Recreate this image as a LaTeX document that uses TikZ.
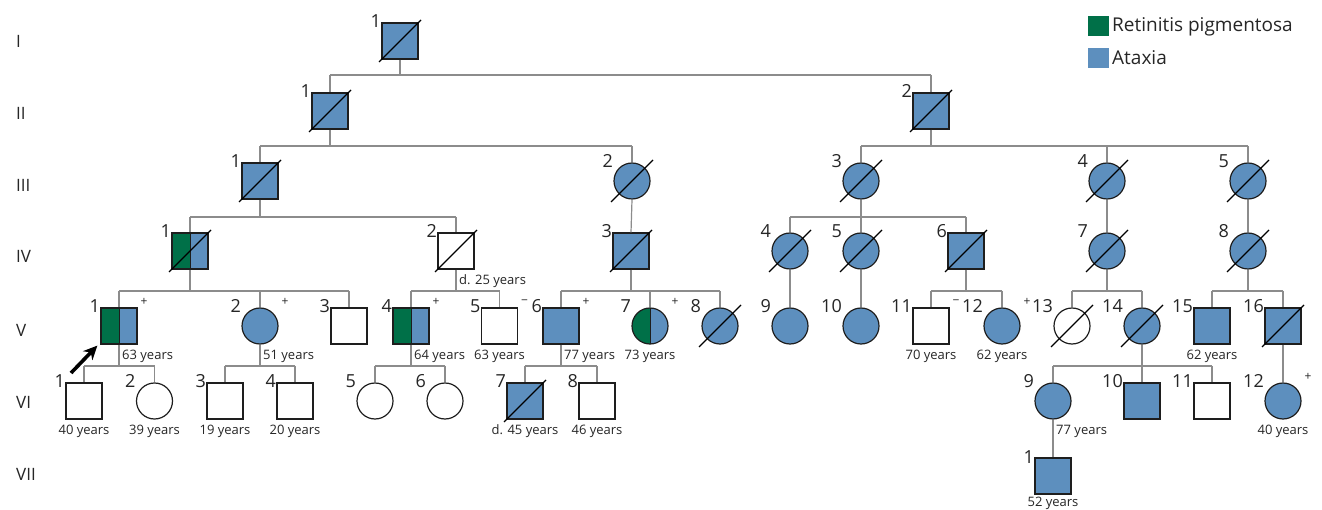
\documentclass[tikz,border=0pt]{standalone}
\usepackage{fontspec}
\setmainfont{Open Sans}
\usetikzlibrary{arrows.meta}
\definecolor{ablue}{RGB}{93,143,190}
\definecolor{rpgreen}{RGB}{0,112,72}
\definecolor{conncol}{RGB}{140,140,140}
\definecolor{outl}{RGB}{30,30,30}
\newcommand\ind[5]{%
  \node[#1] (#2) at (#3,#4) {};
  \node[num, anchor=base east] at ([shift={(-19pt,13pt)}]#2.center) {#5};}
\newcommand\deadmark[1]{\draw[slash] ([shift={(-21pt,-21pt)}]#1.center) -- ([shift={(21pt,21pt)}]#1.center);}
\newcommand\sgn[2]{\node[sgnst] at ([shift={(25pt,24pt)}]#1.center) {#2};}
\newcommand\agec[2]{\node[agest, anchor=base] at ([yshift=-15pt]#1.south) {#2};}
\newcommand\ager[2]{\node[agest, anchor=base west] at ([shift={(3pt,-15pt)}]#1.south) {#2};}
\newcommand\sib[4]{%
  \draw[conn] (#1.south) -- (#1.south |- 0,#2);
  \draw[conn] (#3.north |- 0,#2) -- (#4.north |- 0,#2);}
\newcommand\drop[2]{\draw[conn] (#1.north |- 0,#2) -- (#1.north);}
\newcommand\direct[2]{\draw[conn] (#1.south) -- (#2.north);}
\begin{document}
\begin{tikzpicture}[x=1pt,y=-1pt,
  sq/.style={draw=outl, line width=1.2pt, rectangle, minimum size=36pt, inner sep=0pt},
  ci/.style={draw=outl, line width=1.2pt, circle, minimum size=36pt, inner sep=0pt},
  halfsq/.style={sq, fill=ablue, path picture={
     \fill[rpgreen] (path picture bounding box.south west) rectangle (path picture bounding box.north);
     \draw[outl, line width=0.8pt] (path picture bounding box.south) -- (path picture bounding box.north);}},
  halfci/.style={ci, fill=ablue, path picture={
     \fill[rpgreen] (path picture bounding box.south west) rectangle (path picture bounding box.north);
     \draw[outl, line width=0.8pt] (path picture bounding box.south) -- (path picture bounding box.north);}},
  num/.style={font=\fontsize{18}{20}\selectfont, inner sep=0pt, text=black!85},
  agest/.style={font=\fontsize{13}{15}\selectfont, inner sep=0pt, text=black!85},
  sgnst/.style={font=\fontsize{12}{13}\selectfont, inner sep=0pt, text=black!85},
  gen/.style={font=\fontsize{17}{19}\selectfont, inner sep=0pt, text=black!85},
  leg/.style={font=\fontsize{19}{21}\selectfont, inner sep=0pt, text=black!85},
  slash/.style={draw=black, line width=1.1pt},
  conn/.style={draw=conncol, line width=1.2pt}
]
\fill[white] (0,0) rectangle (1322,510);
\useasboundingbox (0,0) rectangle (1322,510);

% generation labels
\node[gen, anchor=base west] (gI) at (16,48) {I};
\node[gen, anchor=base west] (gII) at (16,120) {II};
\node[gen, anchor=base west] (gIII) at (16,192) {III};
\node[gen, anchor=base west] (gIV) at (16,263) {IV};
\node[gen, anchor=base west] (gV) at (16,337) {V};
\node[gen, anchor=base west] (gVI) at (16,408) {VI};
\node[gen, anchor=base west] (gVII) at (16,480) {VII};

% legend
\node[fill=rpgreen, minimum width=21pt, minimum height=20pt, inner sep=0pt] (lg1) at (1098.5,26) {};
\node[leg, anchor=base west] (lt1) at (1112,32) {Retinitis pigmentosa};
\node[fill=ablue, minimum width=21pt, minimum height=20pt, inner sep=0pt] (lg2) at (1098.5,58) {};
\node[leg, anchor=base west] (lt2) at (1112,65) {Ataxia};

% I
\ind{sq,fill=ablue}{I1}{400}{41}{1}
% II
\ind{sq,fill=ablue}{II1}{330}{111}{1}
\ind{sq,fill=ablue}{II2}{931}{111}{2}
% III
\ind{sq,fill=ablue}{III1}{260}{181}{1}
\ind{ci,fill=ablue}{III2}{632}{181}{2}
\ind{ci,fill=ablue}{III3}{861}{181}{3}
\ind{ci,fill=ablue}{III4}{1107}{181}{4}
\ind{ci,fill=ablue}{III5}{1248}{181}{5}
% IV
\ind{halfsq}{IV1}{190}{251}{1}
\ind{sq,fill=white}{IV2}{456}{251}{2}
\ind{sq,fill=ablue}{IV3}{631}{251}{3}
\ind{ci,fill=ablue}{IV4}{790}{251}{4}
\ind{ci,fill=ablue}{IV5}{861}{251}{5}
\ind{sq,fill=ablue}{IV6}{966}{251}{6}
\ind{ci,fill=ablue}{IV7}{1107}{251}{7}
\ind{ci,fill=ablue}{IV8}{1248}{251}{8}
% V
\ind{halfsq}{V1}{119}{326}{1}
\ind{ci,fill=ablue}{V2}{260}{326}{2}
\ind{sq,fill=white}{V3}{349}{326}{3}
\ind{halfsq}{V4}{411}{326}{4}
\ind{sq,fill=white}{V5}{499.5}{326}{5}
\ind{sq,fill=ablue}{V6}{561}{326}{6}
\ind{halfci}{V7}{650}{326}{7}
\ind{ci,fill=ablue}{V8}{720}{326}{8}
\ind{ci,fill=ablue}{V9}{790}{326}{9}
\ind{ci,fill=ablue}{V10}{861}{326}{10}
\ind{sq,fill=white}{V11}{931}{326}{11}
\ind{ci,fill=ablue}{V12}{1002}{326}{12}
\ind{ci,fill=white}{V13}{1072}{326}{13}
\ind{ci,fill=ablue}{V14}{1142}{326}{14}
\ind{sq,fill=ablue}{V15}{1212}{326}{15}
\ind{sq,fill=ablue}{V16}{1283}{326}{16}
% VI
\ind{sq,fill=white}{VI1}{84}{401}{1}
\ind{ci,fill=white}{VI2}{154.5}{401}{2}
\ind{sq,fill=white}{VI3}{225}{401}{3}
\ind{sq,fill=white}{VI4}{295}{401}{4}
\ind{ci,fill=white}{VI5}{375}{401}{5}
\ind{ci,fill=white}{VI6}{445}{401}{6}
\ind{sq,fill=ablue}{VI7}{525}{401}{7}
\ind{sq,fill=white}{VI8}{597}{401}{8}
\ind{ci,fill=ablue}{VI9}{1053}{401}{9}
\ind{sq,fill=ablue}{VI10}{1142}{401}{10}
\ind{sq,fill=white}{VI11}{1212}{401}{11}
\ind{ci,fill=ablue}{VI12}{1283}{401}{12}
% VII
\ind{sq,fill=ablue}{VII1}{1053}{476}{1}

% deceased marks
\foreach \n in {I1,II1,II2,III1,III2,III3,III4,III5,IV1,IV2,IV3,IV4,IV5,IV6,IV7,IV8,V8,V13,V14,V16,VI7}{\deadmark{\n}}

% connectors
\sib{I1}{75}{II1}{II2} \drop{II1}{75} \drop{II2}{75}
\sib{II1}{146}{III1}{III2} \drop{III1}{146} \drop{III2}{146}
\sib{II2}{146}{III3}{III5} \drop{III3}{146} \drop{III4}{146} \drop{III5}{146}
\sib{III1}{217}{IV1}{IV2} \drop{IV1}{217} \drop{IV2}{217}
\direct{III2}{IV3}
\sib{III3}{217}{IV4}{IV6} \drop{IV4}{217} \drop{IV5}{217} \drop{IV6}{217}
\direct{III4}{IV7}
\direct{III5}{IV8}
\sib{IV1}{291}{V1}{V3} \drop{V1}{291} \drop{V2}{291} \drop{V3}{291}
\sib{IV2}{291}{V4}{V5} \drop{V4}{291} \drop{V5}{291}
\sib{IV3}{291}{V6}{V8} \drop{V6}{291} \drop{V7}{291} \drop{V8}{291}
\direct{IV4}{V9}
\direct{IV5}{V10}
\sib{IV6}{291}{V11}{V12} \drop{V11}{291} \drop{V12}{291}
\sib{IV7}{291}{V13}{V14} \drop{V13}{291} \drop{V14}{291}
\sib{IV8}{291}{V15}{V16} \drop{V15}{291} \drop{V16}{291}
\sib{V1}{366}{VI1}{VI2} \drop{VI1}{366} \drop{VI2}{366}
\sib{V2}{366}{VI3}{VI4} \drop{VI3}{366} \drop{VI4}{366}
\sib{V4}{366}{VI5}{VI6} \drop{VI5}{366} \drop{VI6}{366}
\sib{V6}{366}{VI7}{VI8} \drop{VI7}{366} \drop{VI8}{366}
\sib{V14}{366}{VI9}{VI11} \drop{VI9}{366} \drop{VI10}{366} \drop{VI11}{366}
\direct{V16}{VI12}
\direct{VI9}{VII1}

% signs
\sgn{V1}{+} \sgn{V2}{+} \sgn{V4}{+} \sgn{V5}{−} \sgn{V6}{+} \sgn{V7}{+}
\sgn{V11}{−} \sgn{V12}{+} \sgn{VI12}{+}

% ages
\ager{IV2}{d. 25 years}
\ager{V1}{63 years} \ager{V2}{51 years} \ager{V4}{64 years}
\agec{V5}{63 years} \ager{V6}{77 years} \agec{V7}{73 years}
\agec{V11}{70 years} \agec{V12}{62 years} \agec{V15}{62 years}
\agec{VI1}{40 years} \agec{VI2}{39 years} \agec{VI3}{19 years} \agec{VI4}{20 years}
\agec{VI7}{d. 45 years} \agec{VI8}{46 years} \ager{VI9}{77 years} \agec{VI12}{40 years}
\node[agest, anchor=base] (a52) at ([yshift=-12pt]VII1.south) {52 years};

% proband arrow
\coordinate (pa) at (71,373);
\draw[-{Stealth[length=14pt,width=13pt]}, line width=3.6pt, black] (pa) -- ([shift={(-3pt,-1pt)}]V1.south west);
\end{tikzpicture}
\end{document}
